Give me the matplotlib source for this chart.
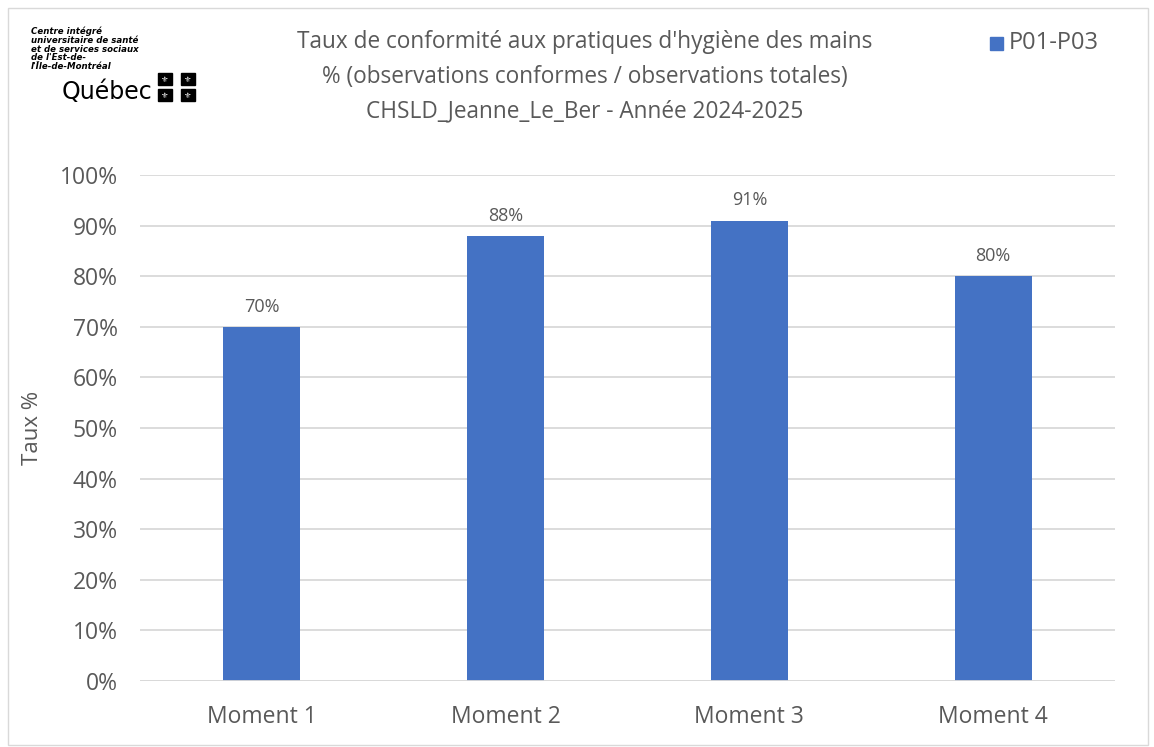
"""Taux de conformité hygiène des mains — CHSLD Jeanne Le Ber, 2024-2025."""

import matplotlib

matplotlib.use("Agg")
import matplotlib.pyplot as plt
from matplotlib.patches import Rectangle

plt.rcParams["font.family"] = ["Open Sans", "DejaVu Sans"]

MOMENTS = ["Moment 1", "Moment 2", "Moment 3", "Moment 4"]
TAUX = [0.70, 0.88, 0.91, 0.80]
SERIE = "P01-P03"
TITRE = ("Taux de conformité aux pratiques d'hygiène des mains\n"
         "% (observations conformes / observations totales)\n"
         "CHSLD_Jeanne_Le_Ber - Année 2024-2025")
LOGO_LIGNES = ("Centre intégré\nuniversitaire de santé\net de services sociaux\n"
               "de l'Est-de-\nl'Île-de-Montréal")

BLEU = "#4472C4"
GRIS_TXT = "#595959"
GRILLE = "#D9D9D9"

W, H = 1154, 747
fig = plt.figure(figsize=(W / 100, H / 100), dpi=100)

# cadre du graphique
fig.patches.append(Rectangle((8 / W, 2 / H), 1140 / W, 737 / H, transform=fig.transFigure,
                             fill=False, edgecolor="#D9D9D9", linewidth=1))

ax = fig.add_axes((140 / W, (H - 681) / H, 975 / W, 506 / H))
x = range(len(MOMENTS))
ax.bar(x, TAUX, width=0.315, color=BLEU, zorder=3)
for i, v in enumerate(TAUX):
    ax.text(i, v + 0.022, f"{v:.0%}", ha="center", va="bottom",
            fontsize=13, color=GRIS_TXT)

ax.set_xlim(-0.5, len(MOMENTS) - 0.5)
ax.set_ylim(0, 1.0)
ax.set_yticks([i / 10 for i in range(11)])
ax.set_yticklabels([f"{i * 10}%" for i in range(11)])
ax.set_xticks(list(x))
ax.set_xticklabels(MOMENTS)
ax.tick_params(length=0, labelsize=16.5, labelcolor=GRIS_TXT)
ax.tick_params(axis="y", pad=16)
ax.tick_params(axis="x", pad=17)
ax.grid(axis="y", color=GRILLE, linewidth=1.3, zorder=0)
for s in ax.spines.values():
    s.set_visible(False)
ax.axhline(0, color=GRILLE, linewidth=1.3, zorder=4)

fig.text(33 / W, 1 - 428 / H, "Taux %", rotation=90, ha="center", va="center",
         fontsize=16, color=GRIS_TXT)

fig.text(585 / W, 1 - 77 / H, TITRE, ha="center", va="center", fontsize=16.3,
         color=GRIS_TXT, linespacing=1.6)

# légende
fig.patches.append(Rectangle((990 / W, 1 - 50 / H), 13 / W, 13 / H,
                             transform=fig.transFigure, color=BLEU))
fig.text(1009 / W, 1 - 43 / H, SERIE, ha="left", va="center", fontsize=17,
         color=GRIS_TXT)

# logo
fig.text(31 / W, 1 - 27 / H, LOGO_LIGNES, ha="left", va="top", fontsize=6.2,
         fontweight="bold", style="italic", linespacing=0.95, color="black",
         family=["DejaVu Sans"])
fig.text(62 / W, 1 - 92 / H, "Québec", ha="left", va="center", fontsize=17,
         color="black", family=["DejaVu Sans"])
for cx, cy in [(165, 79), (188, 79), (165, 95), (188, 95)]:
    fig.patches.append(Rectangle(((cx - 7) / W, 1 - (cy + 6) / H), 14 / W, 12 / H,
                                 transform=fig.transFigure, color="black"))
    fig.text(cx / W, 1 - cy / H, "⚜", ha="center", va="center", fontsize=6,
             color="white", family=["DejaVu Sans"])

fig.savefig("out.png", dpi=100)
